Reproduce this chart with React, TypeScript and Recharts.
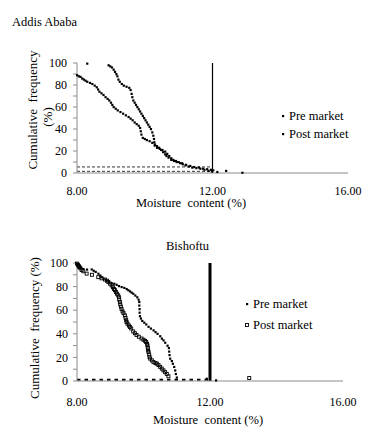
import { ScatterChart, Scatter, XAxis, YAxis, ReferenceLine } from "recharts";

// x axis ticks and y ticks
const xTicks = [8, 12, 16];
const yTicks = [0, 10, 20, 30, 40, 50, 60, 70, 80, 90, 100];

// Addis Ababa - pre market (right curve)
const addisPreX = [8.3, 8.93, 8.98, 9.03, 9.08, 9.12, 9.16, 9.19, 9.22, 9.26, 9.32, 9.38, 9.46, 9.54, 9.58, 9.61, 9.63, 9.66, 9.7, 9.74, 9.78, 9.82, 9.86, 9.9, 9.94, 9.98, 10.02, 10.06, 10.1, 10.14, 10.18, 10.22, 10.25, 10.27, 10.28, 10.29, 10.36, 10.44, 10.52, 10.6, 10.66, 10.72, 10.78, 10.84, 10.92, 11.0, 11.1, 11.22, 11.34, 11.46, 11.6, 11.72, 11.84, 11.95, 12.02, 12.14, 12.4, 12.88];
const addisPreY = [99.5, 98, 97, 96, 94, 92, 90, 88, 85, 83, 81, 79.5, 78.5, 77.5, 75.5, 72, 69, 66, 64, 62, 60, 58, 56, 54, 52, 50, 48, 46, 44, 42, 40, 37, 34, 31, 28, 25, 23, 22, 21, 19.5, 17.5, 15.5, 13.5, 12, 11, 10, 9, 7.5, 6.5, 5.5, 5, 4, 3.5, 3, 2.5, 1, 2, 0.3];

// Addis Ababa - post market (left curve)
const addisPostX = [8.0, 8.05, 8.1, 8.15, 8.2, 8.25, 8.3, 8.38, 8.45, 8.52, 8.58, 8.62, 8.66, 8.72, 8.78, 8.84, 8.9, 8.95, 9.0, 9.04, 9.08, 9.14, 9.2, 9.28, 9.36, 9.44, 9.52, 9.58, 9.64, 9.7, 9.76, 9.82, 9.86, 9.88, 9.9, 9.94, 10.0, 10.06, 10.14, 10.22, 10.3, 10.36, 10.42, 10.48, 10.54, 10.6, 10.64, 10.7, 10.78, 10.86, 10.94, 11.04, 11.12, 11.2, 11.3, 11.4, 11.52, 11.64, 11.76, 11.88, 11.98];
const addisPostY = [89, 88, 87.5, 86, 85, 84, 83, 82, 81, 79.5, 78, 76, 74, 72.5, 71, 69, 67.5, 66, 64, 62, 60, 58.5, 57, 55.5, 54, 52.5, 51, 49.5, 48, 46, 44.5, 43, 41, 38, 35, 32, 31, 30, 29, 27.5, 26, 24.5, 23, 21, 19, 17, 15.5, 14, 12, 11, 10, 9, 8, 7, 6, 5, 4.5, 4, 3, 2, 1.5];

// Bishoftu - pre market
const bishPreX = [8.0, 8.04, 8.08, 8.12, 8.19, 8.3, 8.44, 8.5, 8.56, 8.64, 8.7, 8.74, 8.8, 8.89, 8.96, 9.04, 9.12, 9.19, 9.26, 9.34, 9.42, 9.49, 9.54, 9.59, 9.64, 9.69, 9.75, 9.81, 9.85, 9.87, 9.87, 9.88, 9.88, 9.89, 9.92, 9.96, 10.02, 10.08, 10.15, 10.22, 10.3, 10.36, 10.42, 10.5, 10.55, 10.6, 10.65, 10.72, 10.76, 10.77, 10.78, 10.8, 10.85, 10.88, 10.92, 10.95, 10.97, 11.0, 11.9, 12.18];
const bishPreY = [99.5, 98, 97, 96, 95, 94.5, 94.6, 93.5, 92.5, 91, 89.5, 88, 86.5, 85, 84, 83, 82.5, 81.6, 80.5, 79.7, 79, 78, 77, 76, 75, 74, 72.5, 71, 69, 67, 64, 61, 58, 55, 53, 51, 49.5, 48, 46, 44.5, 43, 41.5, 40, 38, 36, 34.5, 32.5, 30, 28, 25, 22, 19, 17, 14.7, 12, 9, 6, 3, 2, 0.6];

// Bishoftu - post market
const bishPostX = [8.0, 8.03, 8.05, 8.07, 8.1, 8.14, 8.19, 8.29, 8.45, 8.64, 8.74, 8.84, 8.9, 8.94, 8.99, 9.04, 9.08, 9.11, 9.14, 9.17, 9.2, 9.24, 9.26, 9.27, 9.29, 9.3, 9.32, 9.34, 9.37, 9.4, 9.44, 9.46, 9.48, 9.49, 9.52, 9.56, 9.59, 9.63, 9.69, 9.74, 9.79, 9.86, 9.94, 10.0, 10.05, 10.08, 10.11, 10.12, 10.13, 10.14, 10.15, 10.17, 10.18, 10.2, 10.25, 10.3, 10.36, 10.4, 10.45, 10.5, 10.55, 10.6, 10.65, 10.7, 10.75, 13.18];
const bishPostY = [99.5, 98.5, 97.5, 96.6, 95.5, 94, 93, 91, 90, 88, 87, 86, 85, 84, 82.5, 81, 79.5, 78, 77, 75.5, 74, 72.6, 71, 69, 67, 65, 63, 61, 59, 57.5, 55.6, 53.5, 51.5, 50, 48.5, 47, 45.8, 44.5, 42, 40.5, 39, 37.5, 36, 35, 34, 33, 31.5, 30, 28, 26, 24.6, 22.5, 20.5, 19, 17.5, 16, 15.2, 14.7, 13.5, 12, 10.5, 9, 7.5, 6, 4, 2.5];

const toPoints = (xs: number[], ys: number[]) => xs.map((x, i) => ({ x, y: ys[i] }));

const FONT = "'Liberation Serif', 'Times New Roman', serif";
const AXIS_GRAY = "#8c8c8c";

const Dot = (props: any) => {
  const { cx, cy } = props;
  return <rect x={cx - 1} y={cy - 1} width={2.2} height={2.2} fill="#000" />;
};

const OpenSquare = (props: any) => {
  const { cx, cy } = props;
  return <rect x={cx - 1.5} y={cy - 1.5} width={3} height={3} fill="none" stroke="#000" strokeWidth={0.9} />;
};

const yFmt = (v: number) => (v % 20 === 0 ? String(v) : "");

const LegendBox = ({ open, gap }: { open: boolean; gap: number }) => (
  <div style={{ fontFamily: FONT, fontSize: 12.5, color: "#000" }}>
    <div style={{ display: "flex", alignItems: "center", height: 14 }}>
      <svg width={8} height={8}>
        <rect x={2} y={3} width={2.2} height={2.2} fill="#000" />
      </svg>
      <span style={{ marginLeft: 1 }}>Pre market</span>
    </div>
    <div style={{ display: "flex", alignItems: "center", height: 14, marginTop: gap }}>
      <svg width={8} height={8}>
        {open ? (
          <rect x={1.5} y={2.5} width={3} height={3} fill="#fff" stroke="#000" strokeWidth={0.9} />
        ) : (
          <rect x={2} y={3} width={2.2} height={2.2} fill="#000" />
        )}
      </svg>
      <span style={{ marginLeft: 1 }}>Post market</span>
    </div>
  </div>
);

const tickStyle = { fontFamily: FONT, fontSize: 12, fill: "#000" };

const App = () => {
  return (
    <div style={{ position: "absolute", left: 0, top: 0, width: 386, height: 437, background: "#fff", fontFamily: FONT }}>
      <style>{`.recharts-text, .recharts-cartesian-axis-tick-value { font-family: ${FONT}; }`}</style>
      {/* Addis Ababa */}
      <div style={{ position: "absolute", left: 12, top: 15, fontSize: 12.5 }}>Addis Ababa</div>
      <div style={{ position: "absolute", left: 0, top: 0 }}>
        <ScatterChart width={386} height={215} margin={{ top: 63, right: 38, bottom: 22, left: 0 }}>
          <XAxis
            type="number"
            dataKey="x"
            domain={[8, 16]}
            ticks={xTicks}
            tickFormatter={(v: number) => v.toFixed(2)}
            stroke={AXIS_GRAY}
            tickLine={false}
            tick={tickStyle}
            tickMargin={7}
            height={20}
          />
          <YAxis
            type="number"
            dataKey="y"
            domain={[0, 100]}
            ticks={yTicks}
            tickFormatter={yFmt}
            stroke={AXIS_GRAY}
            tick={tickStyle}
            tickSize={4}
            tickMargin={6}
            width={77}
            interval={0}
          />
          <ReferenceLine segment={[{ x: 8, y: 5.5 }, { x: 12, y: 5.5 }]} stroke="#000" strokeDasharray="3 2" strokeWidth={0.8} />
          <ReferenceLine segment={[{ x: 8, y: 1.5 }, { x: 12, y: 1.5 }]} stroke="#000" strokeDasharray="3 2" strokeWidth={0.8} />
          <ReferenceLine x={12} stroke="#000" strokeWidth={1.2} />
          <Scatter name="Pre market" data={toPoints(addisPreX, addisPreY)} shape={<Dot />} isAnimationActive={false} />
          <Scatter name="Post market" data={toPoints(addisPostX, addisPostY)} shape={<Dot />} isAnimationActive={false} />
        </ScatterChart>
      </div>
      <div style={{ position: "absolute", left: 280, top: 109 }}>
        <LegendBox open={false} gap={4} />
      </div>
      <div style={{ position: "absolute", left: 136, top: 196, fontSize: 12.5, whiteSpace: "pre" }}>Moisture  content (%)</div>
      <div style={{ position: "absolute", left: 33, top: 110, transform: "translate(-50%, -50%) rotate(-90deg)", fontSize: 13, whiteSpace: "pre" }}>
        Cumulative  frequency
      </div>
      <div style={{ position: "absolute", left: 48, top: 117, transform: "translate(-50%, -50%) rotate(-90deg)", fontSize: 13 }}>
        (%)
      </div>

      {/* Bishoftu */}
      <div style={{ position: "absolute", left: 166, top: 239, fontSize: 12.5 }}>Bishoftu</div>
      <div style={{ position: "absolute", left: 0, top: 215 }}>
        <ScatterChart width={386} height={222} margin={{ top: 48, right: 43, bottom: 36, left: 0 }}>
          <XAxis
            type="number"
            dataKey="x"
            domain={[8, 16]}
            ticks={xTicks}
            tickFormatter={(v: number) => v.toFixed(2)}
            stroke={AXIS_GRAY}
            tickLine={false}
            tick={tickStyle}
            tickMargin={10}
            height={20}
          />
          <YAxis
            type="number"
            dataKey="y"
            domain={[0, 100]}
            ticks={yTicks}
            tickFormatter={yFmt}
            stroke={AXIS_GRAY}
            tick={tickStyle}
            tickSize={4}
            tickMargin={5}
            width={77}
            interval={0}
          />
          <ReferenceLine segment={[{ x: 8, y: 1 }, { x: 12, y: 1 }]} stroke="#000" strokeDasharray="3.5 4" strokeWidth={2} />
          <ReferenceLine x={12} stroke="#000" strokeWidth={3} />
          <Scatter name="Pre market" data={toPoints(bishPreX, bishPreY)} shape={<Dot />} isAnimationActive={false} />
          <Scatter name="Post market" data={toPoints(bishPostX, bishPostY)} shape={<OpenSquare />} isAnimationActive={false} />
        </ScatterChart>
      </div>
      <div style={{ position: "absolute", left: 244, top: 297 }}>
        <LegendBox open={true} gap={7} />
      </div>
      <div style={{ position: "absolute", left: 153, top: 413, fontSize: 12.5, whiteSpace: "pre" }}>Moisture  content (%)</div>
      <div style={{ position: "absolute", left: 35, top: 328, transform: "translate(-50%, -50%) rotate(-90deg)", fontSize: 13, whiteSpace: "pre" }}>
        Cumulative  frequency (%)
      </div>
    </div>
  );
};

export default App;
